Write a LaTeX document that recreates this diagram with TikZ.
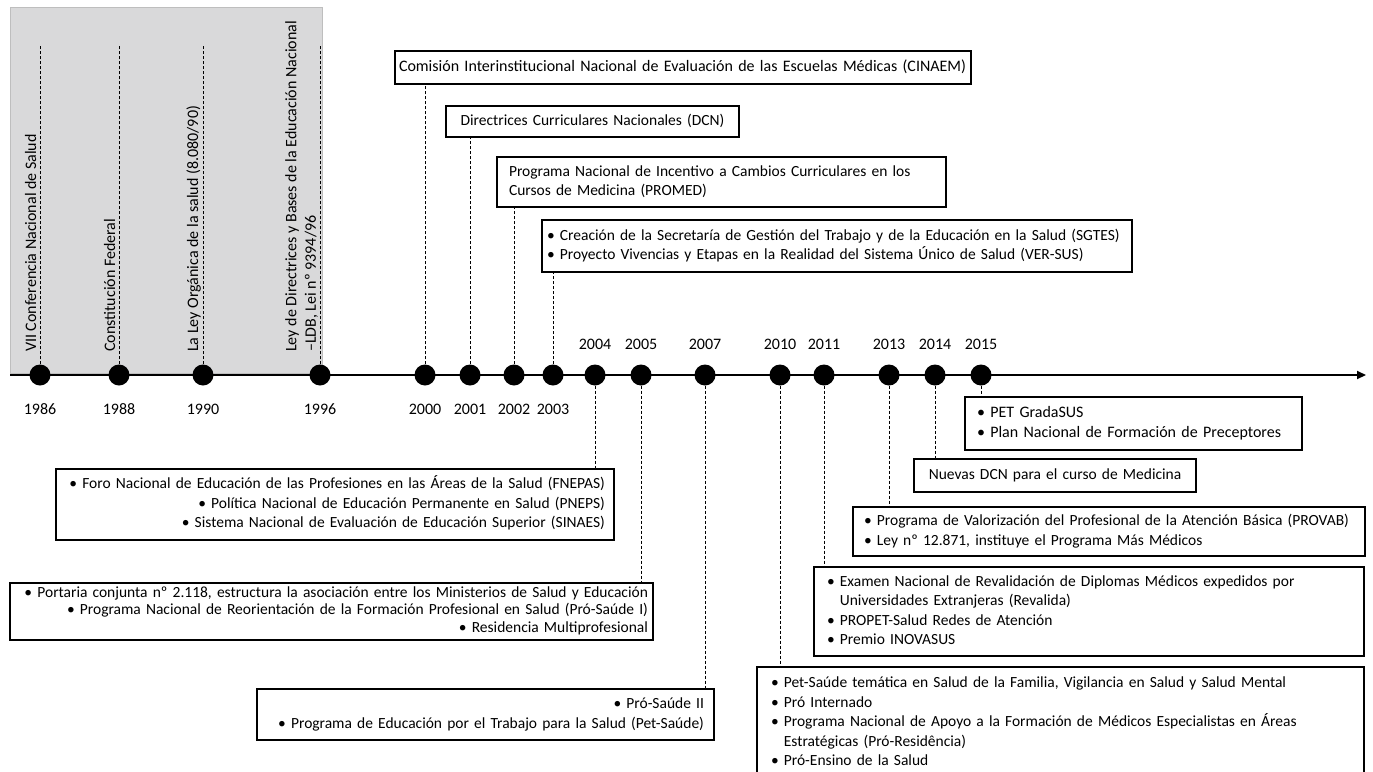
\documentclass[tikz,border=0pt]{standalone}
\usepackage{fontspec}
\setmainfont{Carlito}
\usetikzlibrary{arrows.meta,positioning}
\definecolor{bandgray}{RGB}{217,217,218}
\definecolor{bandedge}{RGB}{190,190,190}

\begin{document}
\begin{tikzpicture}[x=1pt,y=-1pt,
    evbox/.style={draw,line width=1.8pt,outer sep=0pt,inner ysep=0pt,
      font=\fontsize{15.5}{19.5}\selectfont,
      execute at begin node=\strut,execute at end node=\strut},
    yeardot/.style={circle,fill=black,minimum size=21pt,inner sep=0pt},
    yearlbl/.style={inner sep=0pt,font=\fontsize{16}{19.5}\selectfont},
    vlabel/.style={rotate=90,inner sep=0pt,align=left,font=\fontsize{16}{19.5}\selectfont},
    leader/.style={line width=1pt,dash pattern=on 3pt off 2pt},
    axisline/.style={line width=2pt,-{Triangle[length=9pt,width=8pt]}}]
  \useasboundingbox (0,0) rectangle (1373,771);
  \draw[fill=bandgray,draw=bandedge] (10,7) rectangle (322,373);

  \coordinate (axstart) at (10,375);
  \coordinate (axend) at (1366,375);
  \draw[axisline] (axstart) -- (axend);

  \node[yeardot] (d1986) at (40,375) {};
  \node[yeardot] (d1988) at (119,375) {};
  \node[yeardot] (d1990) at (203,375) {};
  \node[yeardot] (d1996) at (320,375) {};
  \node[yeardot] (d2000) at (425,375) {};
  \node[yeardot] (d2001) at (470,375) {};
  \node[yeardot] (d2002) at (514,375) {};
  \node[yeardot] (d2003) at (553,375) {};
  \node[yeardot] (d2004) at (595,375) {};
  \node[yeardot] (d2005) at (641,375) {};
  \node[yeardot] (d2007) at (705,375) {};
  \node[yeardot] (d2010) at (780,375) {};
  \node[yeardot] (d2011) at (824,375) {};
  \node[yeardot] (d2013) at (889,375) {};
  \node[yeardot] (d2014) at (935,375) {};
  \node[yeardot] (d2015) at (981,375) {};

  \node[yearlbl,below=18pt of d1986] (l1986) {1986};
  \node[yearlbl,below=18pt of d1988] (l1988) {1988};
  \node[yearlbl,below=18pt of d1990] (l1990) {1990};
  \node[yearlbl,below=18pt of d1996] (l1996) {1996};
  \node[yearlbl,below=18pt of d2000] (l2000) {2000};
  \node[yearlbl,below=18pt of d2001] (l2001) {2001};
  \node[yearlbl,below=18pt of d2002] (l2002) {2002};
  \node[yearlbl,below=18pt of d2003] (l2003) {2003};
  \node[yearlbl,above=14pt of d2004] (l2004) {2004};
  \node[yearlbl,above=14pt of d2005] (l2005) {2005};
  \node[yearlbl,above=14pt of d2007] (l2007) {2007};
  \node[yearlbl,above=14pt of d2010] (l2010) {2010};
  \node[yearlbl,above=14pt of d2011] (l2011) {2011};
  \node[yearlbl,above=14pt of d2013] (l2013) {2013};
  \node[yearlbl,above=14pt of d2014] (l2014) {2014};
  \node[yearlbl,above=14pt of d2015] (l2015) {2015};

  \coordinate (t1986) at (40,45);
  \coordinate (t1988) at (119,45);
  \coordinate (t1990) at (203,45);
  \coordinate (t1996) at (320,45);
  \draw[leader] (d1986.north) -- (t1986);
  \draw[leader] (d1988.north) -- (t1988);
  \draw[leader] (d1990.north) -- (t1990);
  \draw[leader] (d1996.north) -- (t1996);
  \node[vlabel,anchor=base west] (v1986) at (36,352) {VII Conferencia Nacional de Salud};
  \node[vlabel,anchor=base west] (v1988) at (115,352) {Constitución Federal};
  \node[vlabel,anchor=base west] (v1990) at (198,352) {La Ley Orgánica de la salud (8.080/90)};
  \node[vlabel,anchor=south west] (v1996) at (318,352) {Ley de Directrices y Bases de la Educación Nacional\\–LDB, Lei nº 9394/96};

  \node[evbox,anchor=north west,text width=568pt,inner xsep=4pt,minimum height=33pt,align=left,
    font=\fontsize{16}{19.5}\selectfont] (b2000) at (395,51)
    {\mbox{Comisión Interinstitucional Nacional de Evaluación de las Escuelas Médicas (CINAEM)}};
  \node[evbox,anchor=north west,text width=285pt,inner xsep=4pt,minimum height=31pt,align=center] (b2001) at (446,106)
    {Directrices Curriculares Nacionales (DCN)};
  \node[evbox,anchor=north west,text width=425pt,inner xsep=12pt,minimum height=50pt,align=left] (b2002) at (497,157)
    {Programa Nacional de Incentivo a Cambios Curriculares en los\\Cursos de Medicina (PROMED)};
  \node[evbox,anchor=north west,text width=580pt,inner xsep=5pt,minimum height=52pt,align=left] (b2003) at (542,220)
    {\mbox{• Creación de la Secretaría de Gestión del Trabajo y de la Educación en la Salud (SGTES)}\\• Proyecto Vivencias y Etapas en la Realidad del Sistema Único de Salud (VER-SUS)};

  \node[evbox,anchor=north east,text width=540pt,inner xsep=9pt,minimum height=71pt,align=right] (b2004) at (614,469)
    {\mbox{• Foro Nacional de Educación de las Profesiones en las Áreas de la Salud (FNEPAS)}\\• Política Nacional de Educación Permanente en Salud (PNEPS)\\• Sistema Nacional de Evaluación de Educación Superior (SINAES)};
  \node[evbox,anchor=north east,text width=633pt,inner xsep=5pt,minimum height=57pt,align=right,
    font=\fontsize{15.5}{17.3}\selectfont] (b2005) at (653,583)
    {\mbox{• Portaria conjunta nº 2.118, estructura la asociación entre los Ministerios de Salud y Educación}\\\mbox{• Programa Nacional de Reorientación de la Formación Profesional en Salud (Pró-Saúde I)}\\• Residencia Multiprofesional};
  \node[evbox,anchor=north east,text width=437pt,inner xsep=10pt,minimum height=51pt,align=right] (b2007) at (714,689)
    {• Pró-Saúde II\\\mbox{• Programa de Educación por el Trabajo para la Salud (Pet-Saúde)}};

  \node[evbox,anchor=north west,text width=579pt,inner xsep=14pt,minimum height=112pt,align=left] (b2010) at (757,667)
    {• Pet-Saúde temática en Salud de la Familia, Vigilancia en Salud y Salud Mental\\• Pró Internado\\• Programa Nacional de Apoyo a la Formación de Médicos Especialistas en Áreas\\\phantom{• }Estratégicas (Pró-Residência)\\• Pró-Ensino de la Salud};
  \node[evbox,anchor=north west,text width=524pt,inner xsep=13pt,minimum height=89pt,align=left] (b2011) at (814,567)
    {• Examen Nacional de Revalidación de Diplomas Médicos expedidos por\\\phantom{• }Universidades Extranjeras (Revalida)\\• PROPET-Salud Redes de Atención\\• Premio INOVASUS};
  \node[evbox,anchor=north west,text width=490pt,inner xsep=11pt,minimum height=49pt,align=left] (b2013) at (853,507)
    {\mbox{• Programa de Valorización del Profesional de la Atención Básica (PROVAB)}\\• Ley nº 12.871, instituye el Programa Más Médicos};
  \node[evbox,anchor=north west,text width=274pt,inner xsep=4pt,minimum height=33pt,align=center] (b2014) at (914,459)
    {Nuevas DCN para el curso de Medicina};
  \node[evbox,anchor=north west,text width=313pt,inner xsep=12pt,minimum height=53pt,align=left,
    font=\fontsize{16}{19.5}\selectfont] (b2015) at (965,397)
    {• PET GradaSUS\\• Plan Nacional de Formación de Preceptores};

  \draw[leader] (d2000.north) -- (d2000 |- b2000.south);
  \draw[leader] (d2001.north) -- (d2001 |- b2001.south);
  \draw[leader] (d2002.north) -- (d2002 |- b2002.south);
  \draw[leader] (d2003.north) -- (d2003 |- b2003.south);
  \draw[leader] (d2004.south) -- (d2004 |- b2004.north);
  \draw[leader] (d2005.south) -- (d2005 |- b2005.north);
  \draw[leader] (d2007.south) -- (d2007 |- b2007.north);
  \draw[leader] (d2010.south) -- (d2010 |- b2010.north);
  \draw[leader] (d2011.south) -- (d2011 |- b2011.north);
  \draw[leader] (d2013.south) -- (d2013 |- b2013.north);
  \draw[leader] (d2014.south) -- (d2014 |- b2014.north);
  \draw[leader] (d2015.south) -- (d2015 |- b2015.north);
\end{tikzpicture}
\end{document}
